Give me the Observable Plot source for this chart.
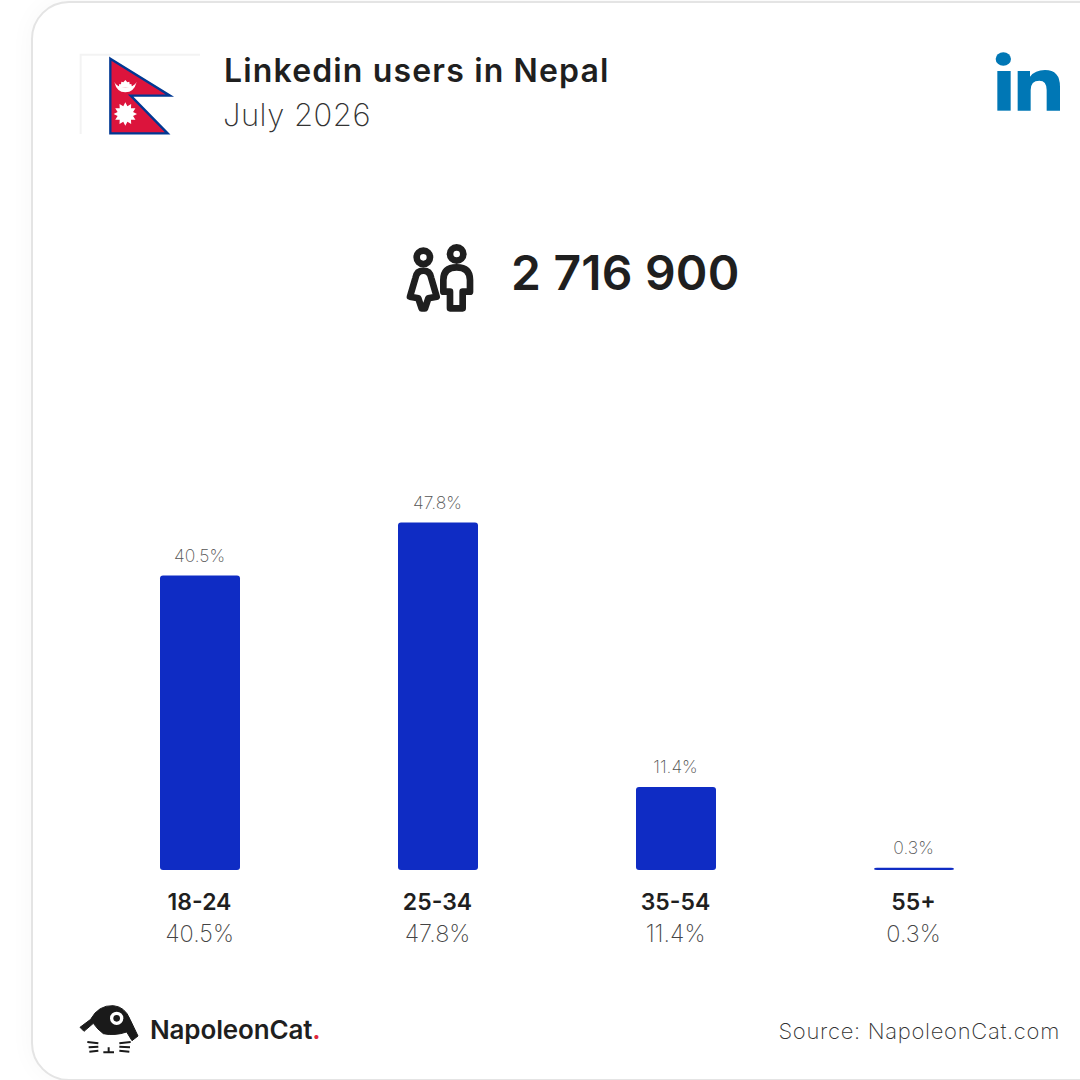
<!DOCTYPE html>
<html>
<head>
<meta charset="utf-8">
<script src="https://cdn.jsdelivr.net/npm/d3@7"></script>
<script src="https://cdn.jsdelivr.net/npm/@observablehq/plot@0.6"></script>
<style>
html,body{margin:0;padding:0;background:#fff;width:1080px;height:1080px;overflow:hidden;font-family:Inter,"Open Sans",sans-serif;color:#1f1f1f}
#page{position:relative;width:1080px;height:1080px;overflow:hidden;background:#fff}
#card{position:absolute;left:31px;top:1px;width:1100px;height:1076px;border:2px solid #e4e4e4;border-radius:38px;background:#fff;box-shadow:0 0 26px rgba(0,0,0,.035)}
#chart{position:absolute;left:0;top:0}
.t{position:absolute;white-space:nowrap;line-height:1}
svg.i{position:absolute;overflow:visible}
</style>
</head>
<body>
<div id="page">
  <div id="card"></div>
  <div id="chart"></div>

  <svg class="i" style="left:60px;top:30px" width="200" height="120" viewBox="0 0 600 360">
    <path d="M62 312V74H420" fill="none" stroke="#f3f3f3" stroke-width="6"/>
    <path d="M151 86L330 197H212L323 310H151Z" fill="#dc143c" stroke="#003893" stroke-width="7"/>
    <path d="M163 156Q170 187 196 187Q222 187 230 156Q222 172 196 172Q170 172 163 156Z" fill="#fff"/>
    <path d="M176 172L178 162L183 163L184 155L190 157L196 150L202 157L208 155L209 163L214 162L216 172Z" fill="#fff"/>
    <path id="sun" fill="#fff"/>
  </svg>

  <div class="t" id="title" style="left:224px;top:55px;font-size:32px;font-weight:600;letter-spacing:1.15px">Linkedin users in Nepal</div>
  <div class="t" id="date" style="left:223px;top:99px;font-size:31px;font-weight:250;color:#333;letter-spacing:.5px">July 2026</div>

  <svg class="i" style="left:980px;top:40px" width="100" height="80" viewBox="0 0 300 240">
    <g fill="#0077b5">
      <ellipse cx="70" cy="57" rx="23" ry="20"/>
      <rect x="52" y="93" width="40" height="119"/>
      <path d="M113 93H150V110Q165 90 195 90Q240 90 240 140V212H200V150Q200 122 178 122Q152 122 152 150V212H113Z"/>
    </g>
  </svg>

  <svg class="i" style="left:390px;top:230px" width="120" height="90" viewBox="0 0 360 270">
    <g fill="none" stroke="#1f1f1f" stroke-width="20" stroke-linejoin="round">
      <circle cx="100" cy="82" r="20"/>
      <circle cx="200" cy="72" r="20"/>
      <path d="M100 122Q80 122 76 145L60 200L85 205L95 235H105L115 205L140 200L124 145Q120 122 100 122Z"/>
      <path d="M160 185V150Q160 112 200 112Q240 112 240 150V185H218V235H180V185Z"/>
    </g>
  </svg>
  <div class="t" id="total" style="left:511px;top:249px;font-size:48px;font-weight:600;letter-spacing:.2px">2 716 900</div>

  <svg class="i" style="left:60px;top:990px" width="280" height="90" viewBox="0 0 840 270">
    <path d="M60 112L92 88Q115 45 160 47Q195 50 210 88L234 138L216 152L200 126Q165 138 130 131Q112 118 100 100L72 124Z" fill="#1a1a1a" stroke="#1a1a1a" stroke-width="3" stroke-linejoin="round"/>
    <circle cx="170" cy="85" r="20" fill="#fff"/>
    <circle cx="170" cy="85" r="10" fill="#1a1a1a"/>
    <g stroke="#1a1a1a" stroke-width="6" fill="none">
      <path d="M82 156L115 160M86 172L115 170M88 185L115 182M178 160L212 156M178 170L210 172M178 182L208 185M130 187H162M146 172V187"/>
    </g>
  </svg>
  <div class="t" id="brand" style="left:150px;top:1017px;font-size:26px;font-weight:600;letter-spacing:-.15px;color:#1f1f1f">NapoleonCat<span style="color:#e0263c">.</span></div>
  <div class="t" id="source" style="right:20px;top:1020px;font-size:22px;font-weight:250;color:#333;letter-spacing:.7px">Source: NapoleonCat.com</div>
</div>
<script>
const ageGroups = ["18-24", "25-34", "35-54", "55+"];
const shares = [40.5, 47.8, 11.4, 0.3];
const shareLabels = ["40.5%", "47.8%", "11.4%", "0.3%"];
const rows = ageGroups.map((age, i) => ({age, share: shares[i], label: shareLabels[i]}));
const font = "Inter, 'Open Sans', sans-serif";

// 12-pointed sun of the flag emblem
document.getElementById("sun").setAttribute("d", d3.lineRadial().curve(d3.curveLinearClosed)(
  d3.range(24).map(i => [i * Math.PI / 12, i % 2 ? 24 : 35])
));
document.getElementById("sun").setAttribute("transform", "translate(196,252)");

const plot = Plot.plot({
  width: 1080,
  height: 1080,
  margin: 0,
  style: {background: "transparent", fontFamily: font},
  x: {type: "band", domain: ageGroups, range: [81, 1033], paddingInner: 0.664, paddingOuter: 0.332, align: 0.5, axis: null},
  y: {type: "linear", domain: [0, 47.8], range: [870, 522.5], axis: null},
  marks: [
    Plot.barY(rows, {x: "age", y: "share", fill: "#0f2cc4", rx: 3}),
    Plot.text(rows, {x: "age", y: "share", text: "label", dx: -1, dy: -20, fontSize: 17.5, fontWeight: 250, fill: "#555"}),
    Plot.text(rows, {x: "age", y: () => 0, text: "age", dx: -1, dy: 32, fontSize: 23, fontWeight: 600, fill: "#1f1f1f"}),
    Plot.text(rows, {x: "age", y: () => 0, text: "label", dx: -1, dy: 64, fontSize: 23.5, fontWeight: 250, fill: "#444"})
  ]
});
document.getElementById("chart").appendChild(plot);
</script>
</body>
</html>
